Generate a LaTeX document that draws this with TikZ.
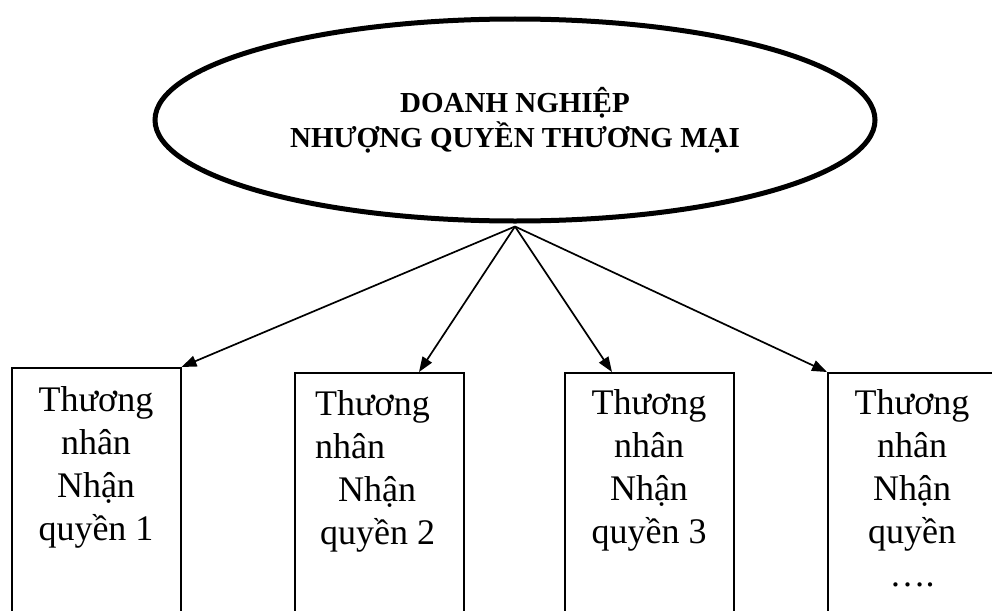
\documentclass[tikz,border=0pt]{standalone}
\usepackage{fontspec}
\setmainfont{Liberation Serif}
\usetikzlibrary{arrows.meta,shapes.geometric}

\tikzset{
  franchisor/.style={ellipse, draw, line width=5pt, inner sep=0pt,
    minimum width=720pt, minimum height=202pt},
  headtext/.style={align=center, inner sep=0pt,
    font=\bfseries\fontsize{29}{35}\selectfont},
  unitbox/.style={rectangle, draw, line width=1.5pt, inner sep=0pt,
    minimum width=169pt, minimum height=260pt, anchor=north west},
  unittext/.style={inner sep=0pt, anchor=base,
    font=\fontsize{36}{43}\selectfont},
  link/.style={line width=1.7pt, -{Triangle[length=15pt,width=11pt]}}
}

\begin{document}
\begin{tikzpicture}[x=1pt,y=-1pt]
  \useasboundingbox (0,0) rectangle (992,610);
  \clip (0,0) rectangle (992,610);

  % franchisor at the top (base anchor = baseline of the last line)
  \node[franchisor] (dn) at (515,120) {};
  \node[headtext, anchor=base] (dnt) at (515,147)
    {DOANH NGHIỆP\\NHƯỢNG QUYỀN THƯƠNG MẠI};
  \coordinate (apex) at ([yshift=-3pt]dn.south);

  % franchisee boxes
  \node[unitbox] (b1) at (11,367) {};
  \node[unitbox] (b2) at (294,372) {};
  \node[unitbox] (b3) at (564,372) {};
  \node[unitbox] (b4) at (827,372) {};

  \node[unittext, align=center] (t1) at (96,540)
    {Thương\\nhân\\Nhận\\quyền 1};
  \node[unittext, align=left, anchor=base west] (t2) at (315,544)
    {Thương\\nhân\\\hspace*{23pt}Nhận\\\hspace*{5pt}quyền 2};
  \node[unittext, align=center] (t3) at (649,543)
    {Thương\\nhân\\Nhận\\quyền 3};
  \node[unittext, align=center] (t4) at (912,586)
    {Thương\\nhân\\Nhận\\quyền\\….};

  % connectors
  \draw[link] (apex) -- (b1.north east);
  \draw[link] (apex) -- ([xshift=125pt]b2.north west);
  \draw[link] (apex) -- ([xshift=48pt]b3.north west);
  \draw[link] (apex) -- (b4.north west);
\end{tikzpicture}
\end{document}
